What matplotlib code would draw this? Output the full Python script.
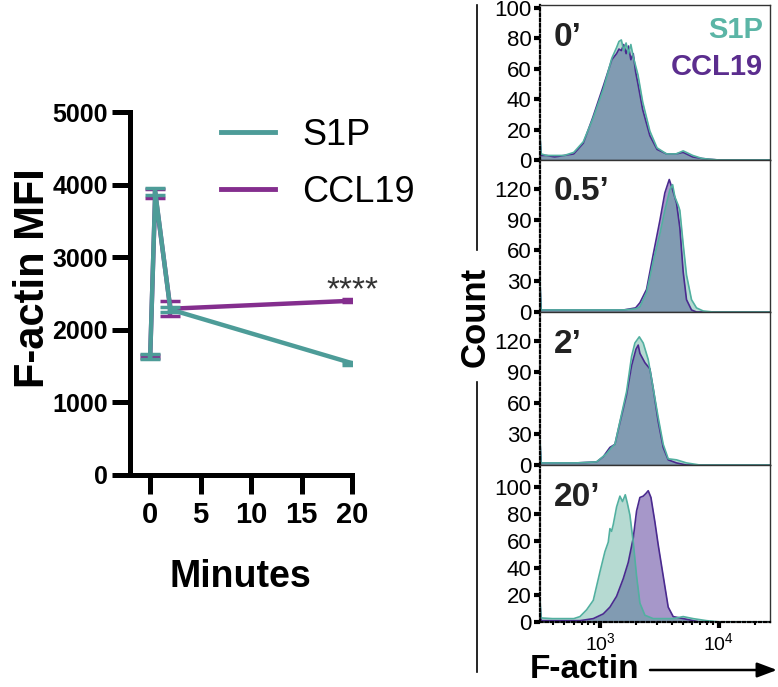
import numpy as np
import matplotlib
matplotlib.use("Agg")
import matplotlib.pyplot as plt
from matplotlib.lines import Line2D

plt.rcParams["font.family"] = ["Liberation Sans", "DejaVu Sans"]
plt.rcParams["mathtext.fontset"] = "custom"
plt.rcParams["mathtext.rm"] = "Liberation Sans"

# %% data - line chart
minutes = [0, 0.5, 2, 20]
s1p_mfi = [1630, 3900, 2280, 1540]
s1p_sem = [30, 50, 35, 22]
ccl19_mfi = [1630, 3880, 2290, 2400]
ccl19_sem = [20, 60, 100, 22]
y_ticks = [0, 1000, 2000, 3000, 4000, 5000]
x_ticks = [0, 5, 10, 15, 20]

# %% data - histograms (x in log10 F-actin, y = count)
panel_labels = ["0\u2019", "0.5\u2019", "2\u2019", "20\u2019"]
panel_ymax = [102, 148, 148, 116]
panel_yticks = [[0, 20, 40, 60, 80, 100], [0, 30, 60, 90, 120],
                [0, 30, 60, 90, 120], [0, 20, 40, 60, 80, 100]]

h0_x = [2.496, 2.505, 2.55, 2.62, 2.70, 2.78, 2.86, 2.94, 3.03, 3.10, 3.14, 3.16,
        3.18, 3.20, 3.22, 3.24, 3.26, 3.28, 3.30, 3.32, 3.36, 3.42, 3.48, 3.56,
        3.64, 3.70, 3.78, 3.86, 3.92, 4.00, 4.43]
h0_s1p = [16, 4, 3, 3, 3, 5, 12, 27, 47, 67, 74, 78, 79, 72, 77, 70, 76, 68, 62, 56,
          38, 19, 8, 4, 4, 6, 3, 1, 0.5, 0, 0]
h0_ccl = [15, 3, 3, 2, 3, 4, 11, 28, 49, 66, 70, 73, 72, 76, 70, 75, 66, 70, 58, 50,
          33, 16, 7, 4, 4, 5, 2, 1, 0.5, 0, 0]

h05_s1p_x = [2.496, 2.505, 2.60, 2.80, 3.00, 3.20, 3.30, 3.336, 3.392, 3.448, 3.504,
             3.546, 3.588, 3.611, 3.630, 3.658, 3.672, 3.700, 3.728, 3.770, 3.812,
             3.868, 3.952, 4.43]
h05_s1p = [30, 2, 2, 2, 2, 2, 3, 5, 19, 49, 76, 99, 119, 124, 112, 104, 99, 66, 36,
           12, 4, 1, 0, 0]
h05_ccl_x = [2.496, 2.505, 2.60, 2.80, 3.00, 3.20, 3.30, 3.336, 3.392, 3.448, 3.504,
             3.546, 3.583, 3.611, 3.644, 3.672, 3.700, 3.728, 3.770, 3.812, 4.43]
h05_ccl = [28, 2, 2, 2, 2, 2, 4, 9, 22, 56, 89, 116, 129, 119, 106, 82, 39, 12, 2, 0, 0]

h2_s1p_x = [2.496, 2.505, 2.60, 2.80, 2.972, 3.056, 3.098, 3.126, 3.168, 3.224, 3.266,
            3.294, 3.331, 3.364, 3.406, 3.448, 3.490, 3.532, 3.574, 3.644, 3.728,
            3.840, 4.43]
h2_s1p = [24, 2, 2, 2, 3, 11, 17, 20, 42, 71, 105, 118, 124, 118, 102, 74, 46, 20, 6,
          5, 2, 0, 0]
h2_ccl_x = [2.496, 2.505, 2.60, 2.80, 2.972, 3.028, 3.084, 3.126, 3.168, 3.224, 3.266,
            3.303, 3.322, 3.336, 3.378, 3.420, 3.448, 3.490, 3.532, 3.574, 3.644,
            3.728, 4.43]
h2_ccl = [22, 2, 2, 2, 3, 8, 17, 20, 41, 68, 96, 112, 116, 108, 99, 93, 74, 42, 17, 5,
          2, 0, 0]

h20_s1p_x = [2.496, 2.505, 2.60, 2.78, 2.832, 2.888, 2.944, 3.000, 3.042, 3.070, 3.084,
             3.098, 3.112, 3.140, 3.168, 3.190, 3.213, 3.230, 3.252, 3.280, 3.308,
             3.336, 3.378, 3.448, 3.616, 3.700, 3.784, 3.896, 4.008, 4.43]
h20_s1p = [16, 3, 2.5, 2.5, 4, 9, 16, 37, 52, 59, 69, 67, 72, 85, 93, 89, 94, 88, 79,
           59, 34, 14, 5, 2.5, 2.5, 4, 2.5, 1, 0, 0]
h20_ccl_x = [2.496, 2.505, 2.832, 2.944, 3.028, 3.084, 3.140, 3.196, 3.238, 3.280, 3.308,
             3.336, 3.364, 3.387, 3.406, 3.429, 3.462, 3.490, 3.532, 3.574, 3.616,
             3.700, 3.784, 3.840, 4.43]
h20_ccl = [14, 1, 1, 2.5, 6, 11, 19, 32, 44, 62, 82, 92, 93, 95, 97, 92, 74, 57, 34, 11,
           4, 2.5, 1, 0, 0]

hist_s1p = [(h0_x, h0_s1p), (h05_s1p_x, h05_s1p), (h2_s1p_x, h2_s1p), (h20_s1p_x, h20_s1p)]
hist_ccl = [(h0_x, h0_ccl), (h05_ccl_x, h05_ccl), (h2_ccl_x, h2_ccl), (h20_ccl_x, h20_ccl)]

# %% colours
teal_line = "#4d9c98"
purple_line = "#842e8e"
teal_fill = "#4aa390"
purple_fill = "#6046a0"
teal_edge = "#52b0a0"
purple_edge = "#4a2a8f"

W, H = 778, 687
fig = plt.figure(figsize=(W / 100, H / 100), dpi=100)

# %% line chart
ax = fig.add_axes([130 / W, 1 - 475 / H, 222 / W, 363 / H])
ax.errorbar(minutes, ccl19_mfi, yerr=ccl19_sem, color=purple_line, lw=3.2,
            capsize=7, capthick=2.5, label="CCL19", zorder=2)
ax.errorbar(minutes, s1p_mfi, yerr=s1p_sem, color=teal_line, lw=3.2,
            capsize=7, capthick=2.5, label="S1P", zorder=3)
ax.set_xlim(-2, 20)
ax.set_ylim(0, 5000)
ax.set_yticks(y_ticks)
ax.set_xticks(x_ticks)
for s in ["top", "right"]:
    ax.spines[s].set_visible(False)
for s in ["left", "bottom"]:
    ax.spines[s].set_linewidth(3.6)
ax.tick_params(axis="y", length=13, width=3.6, labelsize=18, pad=3)
ax.tick_params(axis="x", length=14, width=3.6, labelsize=21, pad=5)
for lab in ax.get_xticklabels() + ax.get_yticklabels():
    lab.set_fontweight("bold")
ax.text(20, 2420, "****", ha="center", va="baseline", fontsize=24, color="#333333")

handles = [Line2D([], [], color=teal_line, lw=3.5), Line2D([], [], color=purple_line, lw=3.5)]
fig.legend(handles, ["S1P", "CCL19"], loc="upper left", bbox_to_anchor=(221 / W, 1 - 118 / H),
           frameon=False, fontsize=26, handlelength=1.5, handletextpad=0.75,
           labelspacing=0.6, borderpad=0, borderaxespad=0)

fig.text(33 / W, 1 - 278 / H, "F-actin MFI", rotation=90, ha="center", va="center",
         fontsize=30, fontweight="bold")
fig.text(240 / W, 1 - 577 / H, "Minutes", ha="center", va="center",
         fontsize=27, fontweight="bold")

# %% histograms
bounds = [(5, 160), (160, 312), (312, 465), (465, 622)]
for i, (top, bot) in enumerate(bounds):
    hx = fig.add_axes([540 / W, 1 - bot / H, 230 / W, (bot - top) / H])
    cx, cy = hist_ccl[i]
    sx, sy = hist_s1p[i]
    cx = 10 ** np.array(cx)
    sx = 10 ** np.array(sx)
    hx.fill_between(cx, cy, color=purple_fill, alpha=0.56, lw=0)
    hx.fill_between(sx, sy, color=teal_fill, alpha=0.4, lw=0)
    hx.plot(cx, cy, color=purple_edge, lw=1.2)
    hx.plot(sx, sy, color=teal_edge, lw=1.2)
    hx.set_xscale("log")
    hx.set_xlim(10 ** 2.496, 10 ** 4.43)
    hx.set_ylim(0, panel_ymax[i])
    hx.set_yticks(panel_yticks[i])
    for s in ["top", "right", "bottom"]:
        hx.spines[s].set_color("#333333")
        hx.spines[s].set_linewidth(1.0)
    hx.spines["left"].set_linestyle((0, (1.2, 1.2)))
    hx.spines["left"].set_linewidth(1.6)
    hx.tick_params(axis="y", length=4, width=3, labelsize=16, pad=2)
    hx.tick_params(axis="y", which="minor", left=False)
    hx.text(0.06, 0.79, panel_labels[i], transform=hx.transAxes, ha="left", va="center",
            fontsize=24, fontweight="bold", color="#222222")
    if i < 3:
        hx.tick_params(axis="x", which="both", bottom=False, labelbottom=False)
    else:
        hx.spines["bottom"].set_color("black")
        hx.spines["bottom"].set_linestyle((0, (1.2, 1.2)))
        hx.spines["bottom"].set_linewidth(1.6)
        hx.set_xticks([1e3, 1e4])
        hx.tick_params(axis="x", length=4, width=3, labelsize=14, pad=3)
        hx.tick_params(axis="x", which="minor", length=2, width=1.5)
    if i == 0:
        hx.text(0.97, 0.84, "S1P", transform=hx.transAxes, ha="right", va="center",
                fontsize=21, fontweight="bold", color="#5bb5a6")
        hx.text(0.97, 0.60, "CCL19", transform=hx.transAxes, ha="right", va="center",
                fontsize=21, fontweight="bold", color="#5b2d8e")

fig.text(475 / W, 1 - 317 / H, "Count", rotation=90, ha="center", va="center",
         fontsize=25, fontweight="bold")
fig.add_artist(Line2D([477 / W, 477 / W], [1 - 5 / H, 1 - 250 / H], color="black", lw=1.2))
fig.add_artist(Line2D([477 / W, 477 / W], [1 - 382 / H, 1 - 672 / H], color="black", lw=1.2))

fig.text(585 / W, 1 - 678 / H, "F-actin", ha="center", va="baseline",
         fontsize=24, fontweight="bold")
fig.add_artist(plt.Annotation("", xy=(777 / W, 1 - 670 / H), xytext=(650 / W, 1 - 670 / H),
                              xycoords="figure fraction", textcoords="figure fraction",
                              arrowprops=dict(arrowstyle="-|>,head_length=1.2,head_width=0.45",
                                              color="black", lw=1.8, shrinkA=0, shrinkB=0)))

fig.savefig("out.png", dpi=100)
